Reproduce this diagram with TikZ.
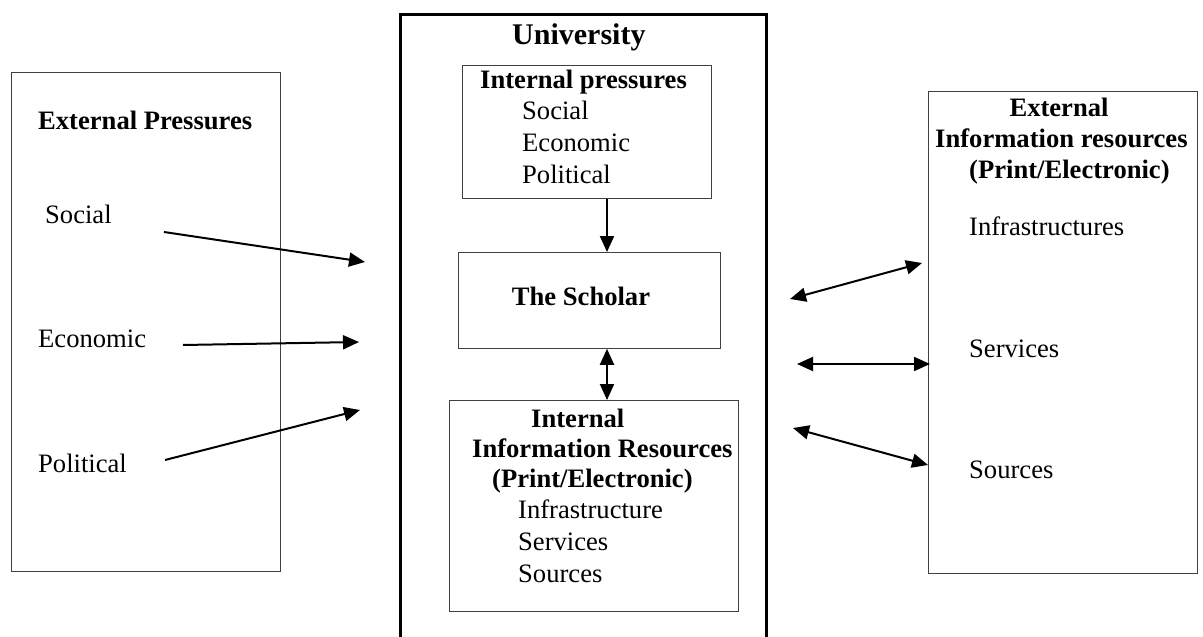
\documentclass[tikz,border=0pt]{standalone}
\usepackage{fontspec}
\setmainfont{Liberation Serif}
\usetikzlibrary{arrows.meta}

\begin{document}
\begin{tikzpicture}[x=1pt, y=-1pt,
  thinbox/.style={draw=black!75, line width=0.8pt, inner sep=0pt, anchor=north west},
  bigbox/.style={draw=black, line width=2.6pt, inner sep=0pt, anchor=north west},
  txt/.style={anchor=base west, inner sep=0pt, font=\fontsize{26.6}{31}\selectfont},
  btxt/.style={anchor=base west, inner sep=0pt, font=\fontsize{26.6}{31}\selectfont\bfseries},
  arr/.style={-{Triangle[length=16pt,width=14pt]}, line width=2pt},
  darr/.style={{Triangle[length=16pt,width=14pt]}-{Triangle[length=16pt,width=14pt]}, line width=2pt}]
  \useasboundingbox (0,0) rectangle (1203,637);

  % boxes
  \node[thinbox, minimum width=269pt, minimum height=499pt] (extp) at (11,72) {};
  \node[bigbox, minimum width=366pt, minimum height=660pt] (univ) at (399,13) {};
  \node[thinbox, minimum width=249pt, minimum height=133pt] (intp) at (462,65) {};
  \node[thinbox, minimum width=262pt, minimum height=96pt] (schol) at (458,252) {};
  \node[thinbox, minimum width=289pt, minimum height=211pt] (intr) at (449,400) {};
  \node[thinbox, minimum width=269pt, minimum height=482pt] (extr) at (928,91) {};

  % left column
  \node[btxt] (extptitle) at (38,129) {External Pressures};
  \node[txt] (exsoc) at (45,223) {Social};
  \node[txt] (execo) at (38,347) {Economic};
  \node[txt] (expol) at (38,472) {Political};

  % university
  \node[anchor=base west, inner sep=0pt, font=\fontsize{30}{36}\selectfont\bfseries] (univtitle) at (512,45) {University};
  \node[btxt] (intptitle) at (480,88) {Internal pressures};
  \node[txt] (insoc) at (522,119) {Social};
  \node[txt] (ineco) at (522,151) {Economic};
  \node[txt] (inpol) at (522,183) {Political};
  \node[btxt, anchor=base] (scholtitle) at (581,305) {The Scholar};
  \node[btxt] (intr1) at (531,427) {Internal};
  \node[btxt] (intr2) at (472,457) {Information Resources};
  \node[btxt] (intr3) at (492,487) {(Print/Electronic)};
  \node[txt] (ininf) at (518,518) {Infrastructure};
  \node[txt] (inser) at (518,550) {Services};
  \node[txt] (insou) at (518,582) {Sources};

  % right column
  \node[btxt, anchor=base] (extr1) at (1059,116) {External};
  \node[btxt] (extr2) at (935,147) {Information resources};
  \node[btxt] (extr3) at (969,178) {(Print/Electronic)};
  \node[txt] (exinf) at (969,235) {Infrastructures};
  \node[txt] (exser) at (969,357) {Services};
  \node[txt] (exsou) at (969,478) {Sources};

  % free arrow ends
  \coordinate (a1) at (164,232); \coordinate (b1) at (365,262);
  \coordinate (a2) at (183,345); \coordinate (b2) at (359,342);
  \coordinate (a3) at (165,460); \coordinate (b3) at (360,410);
  \coordinate (c1) at (790,299); \coordinate (d1) at (922,263);
  \coordinate (c2) at (797,364); \coordinate (d2) at (930,364);
  \coordinate (c3) at (793,428); \coordinate (d3) at (928,465);
  \coordinate (midx) at (607,0);

  \draw[arr] (a1) -- (b1);
  \draw[arr] (a2) -- (b2);
  \draw[arr] (a3) -- (b3);
  \draw[arr] (intp.south -| midx) -- (schol.north -| midx);
  \draw[darr] (schol.south -| midx) -- (intr.north -| midx);
  \draw[darr] (c1) -- (d1);
  \draw[darr] (c2) -- (d2);
  \draw[darr] (c3) -- (d3);
\end{tikzpicture}
\end{document}
